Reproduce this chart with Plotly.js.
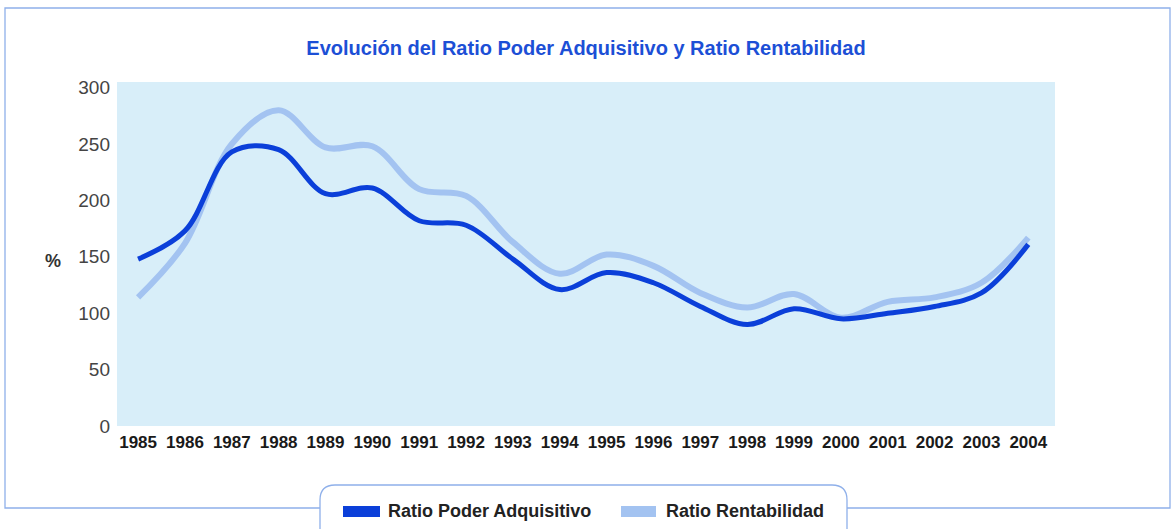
<!DOCTYPE html>
<html>
<head>
<meta charset="utf-8">
<script src="https://cdn.plot.ly/plotly-3.0.1.min.js"></script>
<style>
  html, body { margin: 0; padding: 0; background: #ffffff; }
  #chart { width: 1176px; height: 529px; }
</style>
</head>
<body>
<div id="chart"></div>
<script>
// ---- Data ----
const years = [1985, 1986, 1987, 1988, 1989, 1990, 1991, 1992, 1993, 1994,
               1995, 1996, 1997, 1998, 1999, 2000, 2001, 2002, 2003, 2004];
const ratioPoderAdquisitivo = [148, 173, 243, 245, 206, 211, 182, 178, 148, 121,
                               136, 127, 106, 90, 104, 95, 100, 106, 118, 161];
const ratioRentabilidad = [114, 162, 250, 280, 247, 248, 210, 204, 163, 135,
                           152, 142, 118, 105, 117, 96, 110, 114, 127, 167];
const yTicks = [0, 50, 100, 150, 200, 250, 300];
const seriesNames = ['Ratio Poder Adquisitivo', 'Ratio Rentabilidad'];
const chartTitle = 'Evolución del Ratio Poder Adquisitivo y Ratio Rentabilidad';
const yUnit = '%';

// ---- Layout geometry (pixels) ----
const W = 1176, H = 529;
const M = { l: 117, r: 121, t: 82, b: 103 };
const PW = W - M.l - M.r, PH = H - M.t - M.b;
const px = x => (x - M.l) / PW;           // pixel x -> paper x
const py = y => (H - M.b - y) / PH;       // pixel y -> paper y

const FONT = '"Liberation Sans", Arial, sans-serif';
const DARK = '#0b3fd9';
const LIGHT = '#a3c3f1';
const FRAME = '#8fb0ea';

const traces = [
  {
    x: years, y: ratioRentabilidad, name: seriesNames[1],
    type: 'scatter', mode: 'lines',
    line: { color: LIGHT, width: 6, shape: 'spline', smoothing: 1 },
    hoverinfo: 'x+y'
  },
  {
    x: years, y: ratioPoderAdquisitivo, name: seriesNames[0],
    type: 'scatter', mode: 'lines',
    line: { color: DARK, width: 5, shape: 'spline', smoothing: 1 },
    hoverinfo: 'x+y'
  }
];

// rounded legend box path (top corners rounded)
const bx0 = px(320), bx1 = px(847), byT = py(485), byB = py(545);
const rx = 15 / PW, ry = 15 / PH;
const boxPath = `M ${bx0},${byB} L ${bx0},${byT - ry} Q ${bx0},${byT} ${bx0 + rx},${byT} ` +
                `L ${bx1 - rx},${byT} Q ${bx1},${byT} ${bx1},${byT - ry} L ${bx1},${byB} Z`;

const shapes = [
  { type: 'rect', xref: 'paper', yref: 'paper', x0: px(5), x1: px(1170), y0: py(508), y1: py(8),
    line: { color: FRAME, width: 1.3 }, fillcolor: 'rgba(0,0,0,0)', layer: 'below' },
  { type: 'path', xref: 'paper', yref: 'paper', path: boxPath,
    line: { color: FRAME, width: 1.3 }, fillcolor: '#ffffff', layer: 'above' },
  { type: 'rect', xref: 'paper', yref: 'paper', x0: px(343), x1: px(380), y0: py(517), y1: py(506),
    line: { width: 0 }, fillcolor: DARK, layer: 'above' },
  { type: 'rect', xref: 'paper', yref: 'paper', x0: px(621), x1: px(656), y0: py(517), y1: py(506),
    line: { width: 0 }, fillcolor: LIGHT, layer: 'above' }
];

const annotations = [
  { xref: 'paper', yref: 'paper', x: px(53), y: py(261), text: yUnit, showarrow: false,
    xanchor: 'center', yanchor: 'middle', font: { family: FONT, size: 18, color: '#333333', weight: 'bold' } },
  { xref: 'paper', yref: 'paper', x: px(386), y: py(511), text: '<b>' + seriesNames[0] + '</b>', showarrow: false,
    xanchor: 'left', yanchor: 'middle', font: { family: FONT, size: 18, color: '#222222' } },
  { xref: 'paper', yref: 'paper', x: px(664), y: py(511), text: '<b>' + seriesNames[1] + '</b>', showarrow: false,
    xanchor: 'left', yanchor: 'middle', font: { family: FONT, size: 18, color: '#222222' } }
];

const layout = {
  width: W, height: H,
  margin: M,
  paper_bgcolor: '#ffffff',
  plot_bgcolor: '#d8eef9',
  showlegend: false,
  title: {
    text: '<b>' + chartTitle + '</b>',
    x: 0.5, xref: 'paper', xanchor: 'center',
    y: (H - 48) / H, yref: 'container', yanchor: 'middle',
    font: { family: FONT, size: 20, color: '#1c4fd6' }
  },
  xaxis: {
    range: [1984.55, 2004.57],
    tickmode: 'array', tickvals: years, ticktext: years.map(String),
    tickangle: 0,
    showgrid: false, zeroline: false, showline: false, ticks: '',
    ticklabelstandoff: 4,
    tickfont: { family: FONT, size: 17, color: '#1a1a1a', weight: 'bold' }
  },
  yaxis: {
    range: [0, 305],
    tickmode: 'array', tickvals: yTicks,
    showgrid: false, zeroline: false, showline: false, ticks: '',
    ticklabelstandoff: 6,
    tickfont: { family: FONT, size: 19, color: '#444444' }
  },
  shapes: shapes,
  annotations: annotations
};

Plotly.newPlot('chart', traces, layout, { displayModeBar: false, staticPlot: true });
</script>
</body>
</html>
